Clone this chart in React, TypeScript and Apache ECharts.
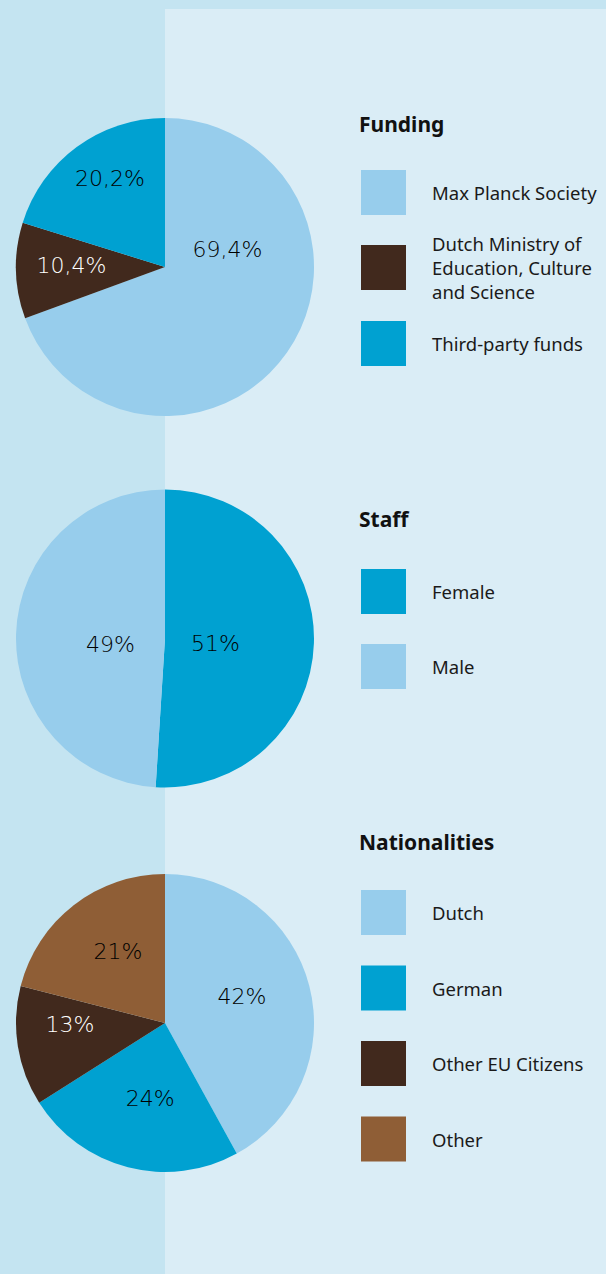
import React, { useEffect, useRef } from "react";
import * as echarts from "echarts";

// ---- Data ----
const fundingNames = ["Max Planck Society", "Dutch Ministry of\nEducation, Culture\nand Science", "Third-party funds"];
const fundingValues = [69.4, 10.4, 20.2];

const staffNames = ["Female", "Male"];
const staffValues = [51, 49];

const nationalityNames = ["Dutch", "German", "Other EU Citizens", "Other"];
const nationalityValues = [42, 24, 13, 21];

// ---- Styles ----
const LIGHT = "#97cdec";
const TEAL = "#00a1d1";
const DARK = "#41291d";
const BROWN = "#8f5e36";

const fundingColors = [LIGHT, DARK, TEAL];
const staffColors = [TEAL, LIGHT];
const nationalityColors = [LIGHT, TEAL, DARK, BROWN];

const fundingLabelColors = ["#000", "#fff", "#000"];
const staffLabelColors = ["#000", "#000"];
const nationalityLabelColors = ["#000", "#000", "#fff", "#000"];

const fundingLabelOffsets = [[-1, -62], [-16, -3.5], [-9, -26.5]];
const staffLabelOffsets = [[-27, 3], [23, 8]];
const nationalityLabelOffsets = [[2, -7.5], [4.5, 0], [-18.5, -10.7], [0.5, -10.6]];

const LEGEND_FONT = "'Noto Sans', sans-serif";
const LABEL_FONT = "'DejaVu Sans', sans-serif";

function buildData(names: string[], values: number[], colors: string[], labelColors: string[], offsets: number[][]) {
  return names.map((name, i) => ({
    name,
    value: values[i],
    itemStyle: { color: colors[i] },
    label: { color: labelColors[i], offset: offsets[i] },
  }));
}

function pieSeries(name: string, center: number[], data: any[]) {
  return {
    type: "pie",
    name,
    center,
    radius: 149,
    startAngle: 90,
    clockwise: true,
    avoidLabelOverlap: false,
    silent: true,
    emphasis: { disabled: true },
    label: {
      show: true,
      position: "inside",
      fontFamily: LABEL_FONT,
      fontWeight: 200,
      fontSize: 22,
      formatter: (p: any) => String(p.value).replace(".", ",") + "%",
    },
    labelLine: { show: false },
    data,
  };
}

function legendText(padding: number[]) {
  return {
    fontFamily: LEGEND_FONT,
    fontSize: 18.5,
    lineHeight: 24,
    color: "#1a1a1a",
    padding,
  };
}

const legendBase = {
  orient: "vertical",
  left: 361,
  padding: 0,
  icon: "rect",
  itemWidth: 45,
  itemHeight: 45,
  selectedMode: false,
  textStyle: legendText([0, 0, 0, 21]),
};

const titleBase = {
  left: 359,
  padding: 0,
  textStyle: { fontFamily: LEGEND_FONT, fontSize: 21, fontWeight: "bold", color: "#111" },
};

export default function App() {
  const ref = useRef<HTMLDivElement>(null);

  useEffect(() => {
    document.body.style.margin = "0";
    if (!ref.current) return;
    const chart = echarts.init(ref.current, undefined, { renderer: "svg" });
    chart.setOption({
      animation: false,
      backgroundColor: "#c4e4f1",
      graphic: [
        {
          type: "rect",
          z: -10,
          silent: true,
          shape: { x: 165, y: 9, width: 441, height: 1265 },
          style: { fill: "#daedf6" },
        },
      ],
      title: [
        { ...titleBase, text: "Funding", top: 113.5 },
        { ...titleBase, text: "Staff", top: 508.5 },
        { ...titleBase, text: "Nationalities", top: 831.5 },
      ],
      legend: [
        { ...legendBase, top: 170, data: [fundingNames[0]], textStyle: legendText([5, 0, 0, 21]) },
        { ...legendBase, top: 231.5, data: [fundingNames[1]] },
        { ...legendBase, top: 321, data: [fundingNames[2]], textStyle: legendText([0, 0, 9, 21]) },
        { ...legendBase, top: 569, itemGap: 30, data: staffNames, textStyle: legendText([4, 0, 0, 21]) },
        { ...legendBase, top: 890, itemGap: 30.5, data: nationalityNames, textStyle: legendText([2, 0, 0, 21]) },
      ],
      series: [
        pieSeries("Funding", [165, 267], buildData(fundingNames, fundingValues, fundingColors, fundingLabelColors, fundingLabelOffsets)),
        pieSeries("Staff", [165, 638.5], buildData(staffNames, staffValues, staffColors, staffLabelColors, staffLabelOffsets)),
        pieSeries("Nationalities", [165, 1023], buildData(nationalityNames, nationalityValues, nationalityColors, nationalityLabelColors, nationalityLabelOffsets)),
      ],
    });
    return () => chart.dispose();
  }, []);

  return <div ref={ref} style={{ width: 606, height: 1274 }} />;
}
